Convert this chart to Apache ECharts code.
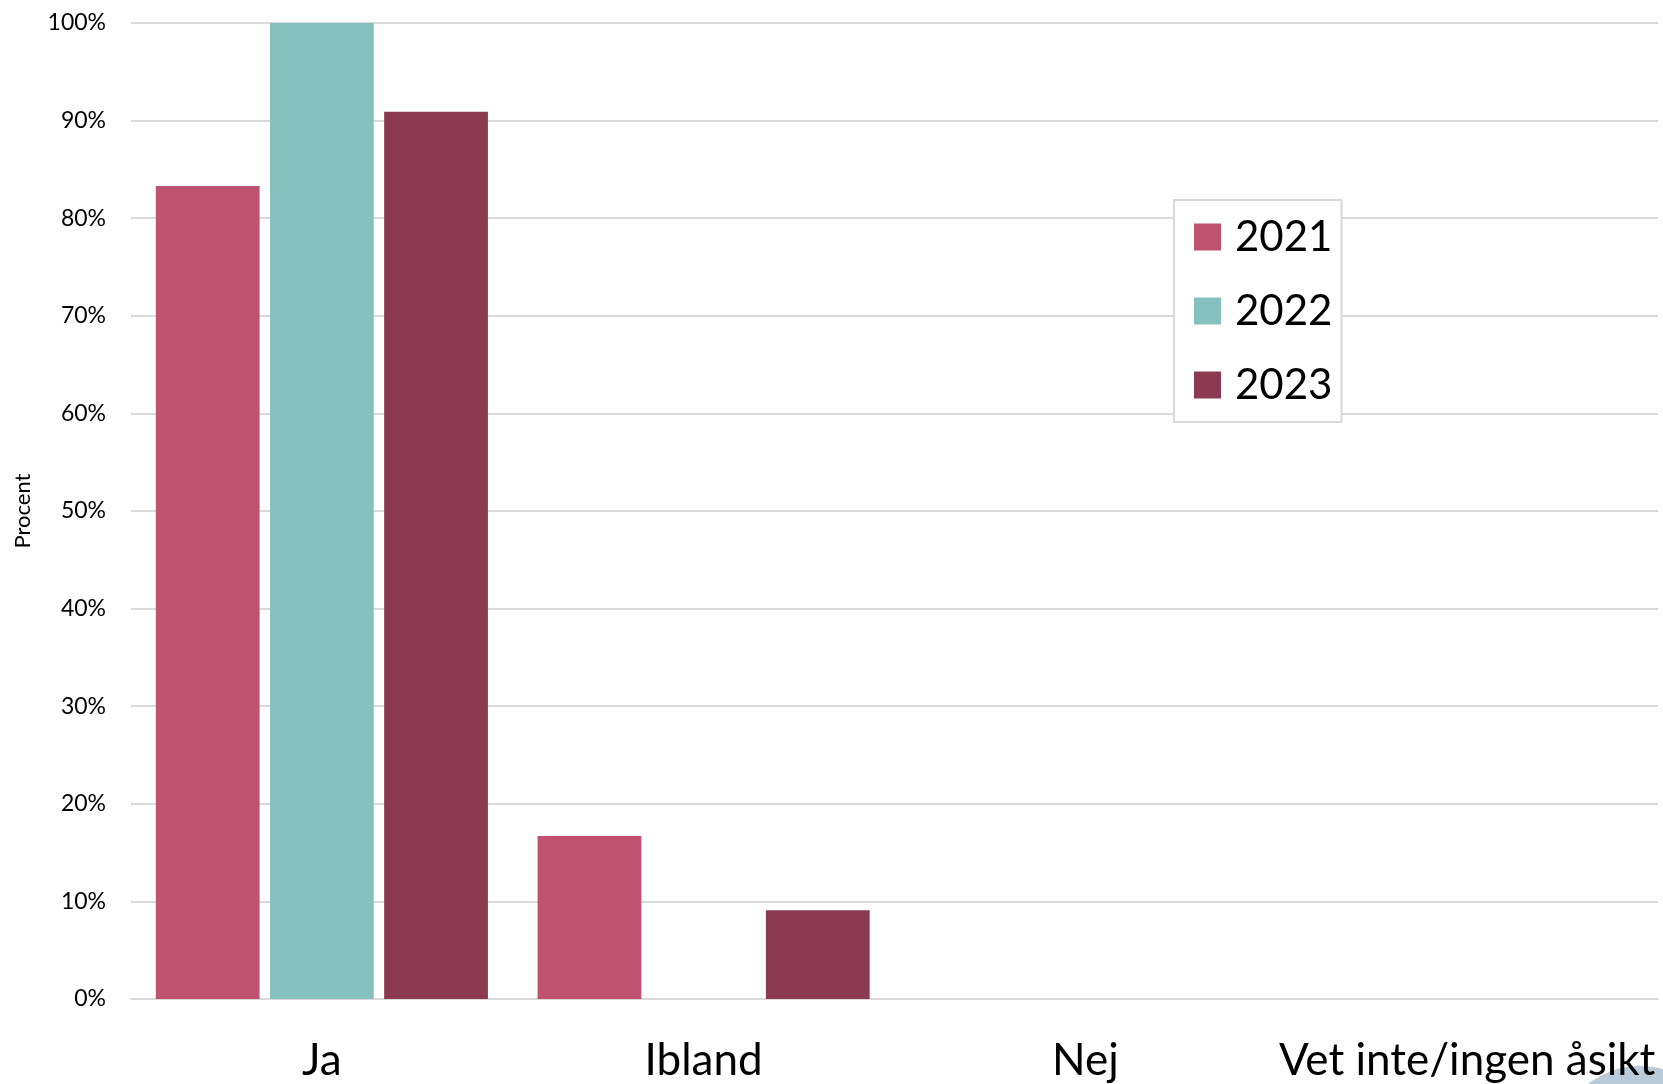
<!DOCTYPE html>
<html>
<head>
<meta charset="utf-8">
<script src="https://cdn.jsdelivr.net/npm/echarts@6/dist/echarts.min.js"></script>
<style>
  html, body { margin: 0; padding: 0; background: #fff; }
  #chart { width: 1663px; height: 1084px; }
</style>
</head>
<body>
<div id="chart"></div>
<script>
// svarsalternativ
const categories = ['Ja', 'Ibland', 'Nej', 'Vet inte/ingen åsikt'];
const years = ['2021', '2022', '2023'];
// andel i procent per år
const values2021 = [83.3, 16.7, 0, 0];
const values2022 = [100, 0, 0, 0];
const values2023 = [90.9, 9.1, 0, 0];
const colors = ['#BF526F', '#84C1BF', '#8B3A51'];

const chart = echarts.init(document.getElementById('chart'));
const font = 'Lato, "Noto Sans", sans-serif';

const option = {
  animation: false,
  grid: { left: 131, right: 5, top: 23, bottom: 85 },
  legend: {
    orient: 'vertical',
    left: 1174,
    top: 200,
    data: years,
    icon: 'rect',
    itemWidth: 27,
    itemHeight: 27,
    itemGap: 30,
    padding: [15, 9, 15, 20],
    borderColor: '#d9d9d9',
    borderWidth: 2,
    backgroundColor: '#fff',
    textStyle: { fontFamily: font, fontSize: 42, color: '#000', lineHeight: 44, padding: [0, 0, 0, 9] }
  },
  xAxis: {
    type: 'category',
    data: categories,
    axisTick: { show: false },
    axisLine: { lineStyle: { color: '#d9d9d9', width: 2 } },
    axisLabel: { interval: 0, fontFamily: font, fontSize: 44, color: '#000', margin: 40 }
  },
  yAxis: {
    type: 'value',
    min: 0,
    max: 100,
    interval: 10,
    name: 'Procent',
    nameLocation: 'middle',
    nameGap: 97,
    nameTextStyle: { fontFamily: font, fontSize: 22, color: '#000' },
    axisLine: { show: false },
    axisTick: { show: false },
    axisLabel: { formatter: '{value}%', fontFamily: font, fontSize: 23, color: '#000', margin: 25 },
    splitLine: { lineStyle: { color: '#d9d9d9', width: 2 } }
  },
  series: [values2021, values2022, values2023].map((vals, i) => ({
    name: years[i],
    type: 'bar',
    data: vals,
    barGap: '10%',
    barCategoryGap: '13%',
    itemStyle: { color: colors[i] }
  })),
  graphic: [{
    type: 'circle',
    shape: { cx: 1640, cy: 1150, r: 84 },
    style: { fill: '#b9cbd8' },
    z: -1
  }]
};

chart.setOption(option);
</script>
</body>
</html>
